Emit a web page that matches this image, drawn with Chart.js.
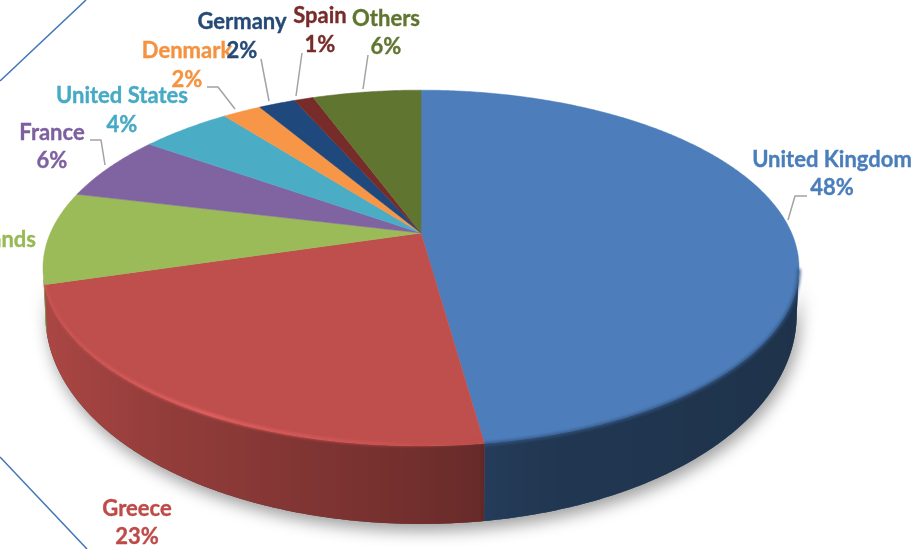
<!DOCTYPE html>
<html>
<head>
<meta charset="utf-8">
<style>html,body{margin:0;padding:0;background:#fff;overflow:hidden}canvas{display:block}</style>
<script src="https://cdn.jsdelivr.net/npm/chart.js@4/dist/chart.umd.min.js"></script>
</head>
<body>
<canvas id="c" width="918" height="549"></canvas>
<script>
const categories = ["United Kingdom","Greece","Netherlands","France","United States","Denmark","Germany","Spain","Others"];
const shares = [47.8,22.6,8.4,6.0,4.7,2.0,1.9,1.0,5.6];
const shareLabels = ["48%","23%","8%","6%","4%","2%","2%","1%","6%"];
const sliceColors = ["#4d7ebb","#be4f4c","#9bbb59","#8064a2","#4bacc6","#f79646","#1f497d","#772c2a","#5f7530"];
const textColors = ["#4a7ebb","#be4b48","#98b954","#7d60a0","#46aac4","#f59240","#264a76","#772c2a","#5f7530"];
// Layout (pixels) of the labels: [centre x, name y, percent y]
const labelSpots = [[832,160,188],[137,509,537],[-24,240,268],[52,133,161],[122,96,125],[187,51,80],[242,22,51],[320,16,45],[386,19,47]];
const leaderLines = [
  [[788,220],[795,196],[807,196]],
  null, null,
  [[90,140],[101,140],[105,165]],
  null,
  [[207,87],[218,87],[235,109]],
  [[261,59],[269,101]],
  [[302,53],[296,96]],
  [[368,55],[363,89]]
];
const frameLines = [[[0,81],[86,0]],[[0,457],[87,549]]];
// Projection of the tilted disc
const CX=421, CY=233, RX=370.6, RY=171, K=0.197;
const DEG=Math.PI/180;
function rimPoint(a){const x=Math.cos(a),y=Math.sin(a),w=1-K*y;return [CX+RX*x/w,CY+RY*y/w];}
function lowPoint(a){const p=rimPoint(a),y=Math.sin(a);return [CX+(p[0]-CX)*0.994,p[1]+38+40*y];}
const SIDE_A=11.4*DEG, SIDE_B=168.6*DEG;
function trace(ctx,a0,a1,fn,first){
  const n=Math.max(2,Math.ceil(Math.abs(a1-a0)/(0.5*DEG)));
  for(let i=0;i<=n;i++){const p=fn(a0+(a1-a0)*i/n);if(i===0&&first)ctx.moveTo(p[0],p[1]);else ctx.lineTo(p[0],p[1]);}
}
const disc3d={
  id:'disc3d',
  beforeDatasetsDraw(chart){
    const ctx=chart.ctx, arcs=chart.getDatasetMeta(0).data;
    ctx.save();
    ctx.filter='blur(0.6px)';
    // soft cast shadow + side wall
    ctx.save();
    ctx.shadowColor='rgba(0,0,0,0.38)';ctx.shadowBlur=16;ctx.shadowOffsetY=7;ctx.shadowOffsetX=3;
    ctx.fillStyle='#444';
    ctx.beginPath();trace(ctx,SIDE_A,SIDE_B,rimPoint,true);trace(ctx,SIDE_B,SIDE_A,lowPoint,false);ctx.closePath();ctx.fill();
    ctx.restore();
    const shade=ctx.createLinearGradient(44,0,800,0);
    const st=[[0,0.10],[0.15,0.22],[0.42,0.36],[0.575,0.45],[0.585,0.52],[0.66,0.56],[1,0.60]];
    st.forEach(s=>shade.addColorStop(s[0],'rgba(0,0,0,'+s[1]+')'));
    arcs.forEach((el,i)=>{
      const s=el.startAngle,e=el.endAngle;const a0=Math.max(s,SIDE_A),a1=Math.min(e,SIDE_B);
      if(a1<=a0)return;
      ctx.beginPath();trace(ctx,a0,a1,rimPoint,true);trace(ctx,a1,a0,lowPoint,false);ctx.closePath();
      ctx.fillStyle=sliceColors[i];ctx.fill();
      ctx.fillStyle=shade;ctx.fill();
    });
    // top face
    arcs.forEach((el,i)=>{
      const s=el.startAngle,e=el.endAngle;
      ctx.beginPath();ctx.moveTo(CX,CY);trace(ctx,s,e,rimPoint,false);ctx.closePath();
      ctx.fillStyle=sliceColors[i];ctx.fill();
      ctx.strokeStyle=sliceColors[i];ctx.lineWidth=0.5;ctx.stroke();
    });
    // rim bevel
    ctx.filter='blur(1.6px)';
    const g=ctx.createLinearGradient(50,0,490,0);
    g.addColorStop(0,'rgba(225,95,95,0.35)');g.addColorStop(0.35,'rgba(235,100,100,1)');g.addColorStop(0.75,'rgba(220,88,88,0.6)');g.addColorStop(1,'rgba(200,75,70,0.1)');
    ctx.beginPath();trace(ctx,arcs[1].startAngle,arcs[1].endAngle,a=>{const p=rimPoint(a);return [p[0],p[1]-1];},true);
    ctx.strokeStyle=g;ctx.lineWidth=3;ctx.stroke();
    ctx.beginPath();trace(ctx,SIDE_A,arcs[0].endAngle,a=>{const p=rimPoint(a);return [p[0],p[1]+0.5];},true);
    ctx.strokeStyle='rgba(50,85,130,0.85)';ctx.lineWidth=3.5;ctx.stroke();
    ctx.restore();
    return false;
  },
  afterDraw(chart){
    const ctx=chart.ctx;
    ctx.save();
    ctx.lineCap='butt';ctx.lineJoin='round';
    ctx.strokeStyle='#3f75b8';ctx.lineWidth=1.5;
    frameLines.forEach(l=>{ctx.beginPath();ctx.moveTo(l[0][0],l[0][1]);ctx.lineTo(l[1][0],l[1][1]);ctx.stroke();});
    ctx.strokeStyle='#a3a3a3';ctx.lineWidth=1.5;
    leaderLines.forEach(l=>{if(!l)return;ctx.beginPath();l.forEach((p,i)=>i?ctx.lineTo(p[0],p[1]):ctx.moveTo(p[0],p[1]));ctx.stroke();});
    ctx.font='bold 22px Lato, "Open Sans", sans-serif';
    ctx.textAlign='center';ctx.textBaseline='middle';
    ctx.filter='blur(0.4px)';
    ctx.lineWidth=0.35;
    categories.forEach((name,i)=>{
      const sp=labelSpots[i];
      ctx.fillStyle=textColors[i];ctx.strokeStyle=textColors[i];
      ctx.fillText(name,sp[0],sp[1]);ctx.strokeText(name,sp[0],sp[1]);
      ctx.fillText(shareLabels[i],sp[0],sp[2]);ctx.strokeText(shareLabels[i],sp[0],sp[2]);
    });
    ctx.restore();
  }
};
new Chart(document.getElementById('c'),{
  type:'pie',
  data:{labels:categories,datasets:[{data:shares,backgroundColor:sliceColors,borderWidth:0}]},
  options:{responsive:false,animation:false,plugins:{legend:{display:false},tooltip:{enabled:false}}},
  plugins:[disc3d]
});
</script>
</body>
</html>
